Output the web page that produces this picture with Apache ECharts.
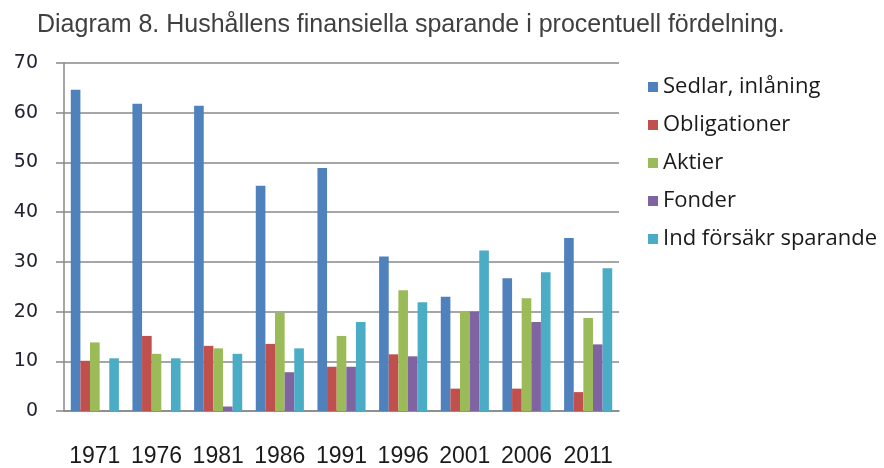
<!DOCTYPE html>
<html>
<head>
<meta charset="utf-8">
<script src="https://cdn.jsdelivr.net/npm/echarts@6/dist/echarts.min.js"></script>
<style>
  html, body { margin: 0; padding: 0; background: #fff; }
  #chart { width: 884px; height: 468px; }
</style>
</head>
<body>
<div id="chart"></div>
<script>
// år och serier (procent)
const years = ["1971", "1976", "1981", "1986", "1991", "1996", "2001", "2006", "2011"];
const sedlar = [64.6, 61.8, 61.4, 45.3, 48.9, 31.1, 23.0, 26.7, 34.8];
const obligationer = [10.1, 15.1, 13.1, 13.5, 8.9, 11.4, 4.5, 4.5, 3.8];
const aktier = [13.8, 11.5, 12.6, 19.8, 15.1, 24.3, 20.0, 22.7, 18.7];
const fonder = [0, 0, 0.9, 7.8, 8.9, 11.0, 20.0, 17.9, 13.4];
const forsakr = [10.6, 10.6, 11.5, 12.6, 17.9, 21.9, 32.3, 27.9, 28.7];
const yTicks = [0, 10, 20, 30, 40, 50, 60, 70];

const chart = echarts.init(document.getElementById("chart"));

const gridColor = "#888888";
const bar = (name, data, color) => ({
  name: name,
  type: "bar",
  data: data,
  barGap: 0,
  barCategoryGap: "22%",
  itemStyle: { color: color },
});

chart.setOption({
  animation: false,
  title: {
    text: "Diagram 8. Hushållens finansiella sparande i procentuell fördelning.",
    left: 32,
    top: 8,
    textStyle: {
      fontFamily: "Liberation Sans",
      fontSize: 25,
      fontWeight: "normal",
      color: "#404040",
    },
  },
  legend: {
    orient: "vertical",
    left: 643,
    top: 71,
    itemWidth: 10,
    itemHeight: 10,
    itemGap: 16,
    icon: "rect",
    textStyle: { fontFamily: "Open Sans", fontSize: 22, color: "#1a1a1a" },
  },
  grid: { left: 64, right: 265, top: 63, bottom: 57 },
  xAxis: {
    type: "category",
    data: years,
    axisLine: { lineStyle: { color: gridColor, width: 1.5 } },
    axisTick: { length: 8, lineStyle: { color: gridColor, width: 1.5 } },
    axisLabel: { interval: 0, margin: 34, fontFamily: "Liberation Sans", fontSize: 23, color: "#1a1a1a" },
  },
  yAxis: {
    type: "value",
    min: yTicks[0],
    max: yTicks[yTicks.length - 1],
    interval: 10,
    axisLine: { show: true, lineStyle: { color: gridColor, width: 1.5 } },
    axisTick: { show: true, length: 8, lineStyle: { color: gridColor, width: 1.5 } },
    splitLine: { lineStyle: { color: gridColor, width: 1.5 } },
    axisLabel: { margin: 26, fontFamily: "DejaVu Sans", fontSize: 19, color: "#222233" },
  },
  series: [
    bar("Sedlar, inlåning", sedlar, "#4f81bd"),
    bar("Obligationer", obligationer, "#c0504d"),
    bar("Aktier", aktier, "#9bbb59"),
    bar("Fonder", fonder, "#8064a2"),
    bar("Ind försäkr sparande", forsakr, "#4bacc6"),
  ],
});
</script>
</body>
</html>
